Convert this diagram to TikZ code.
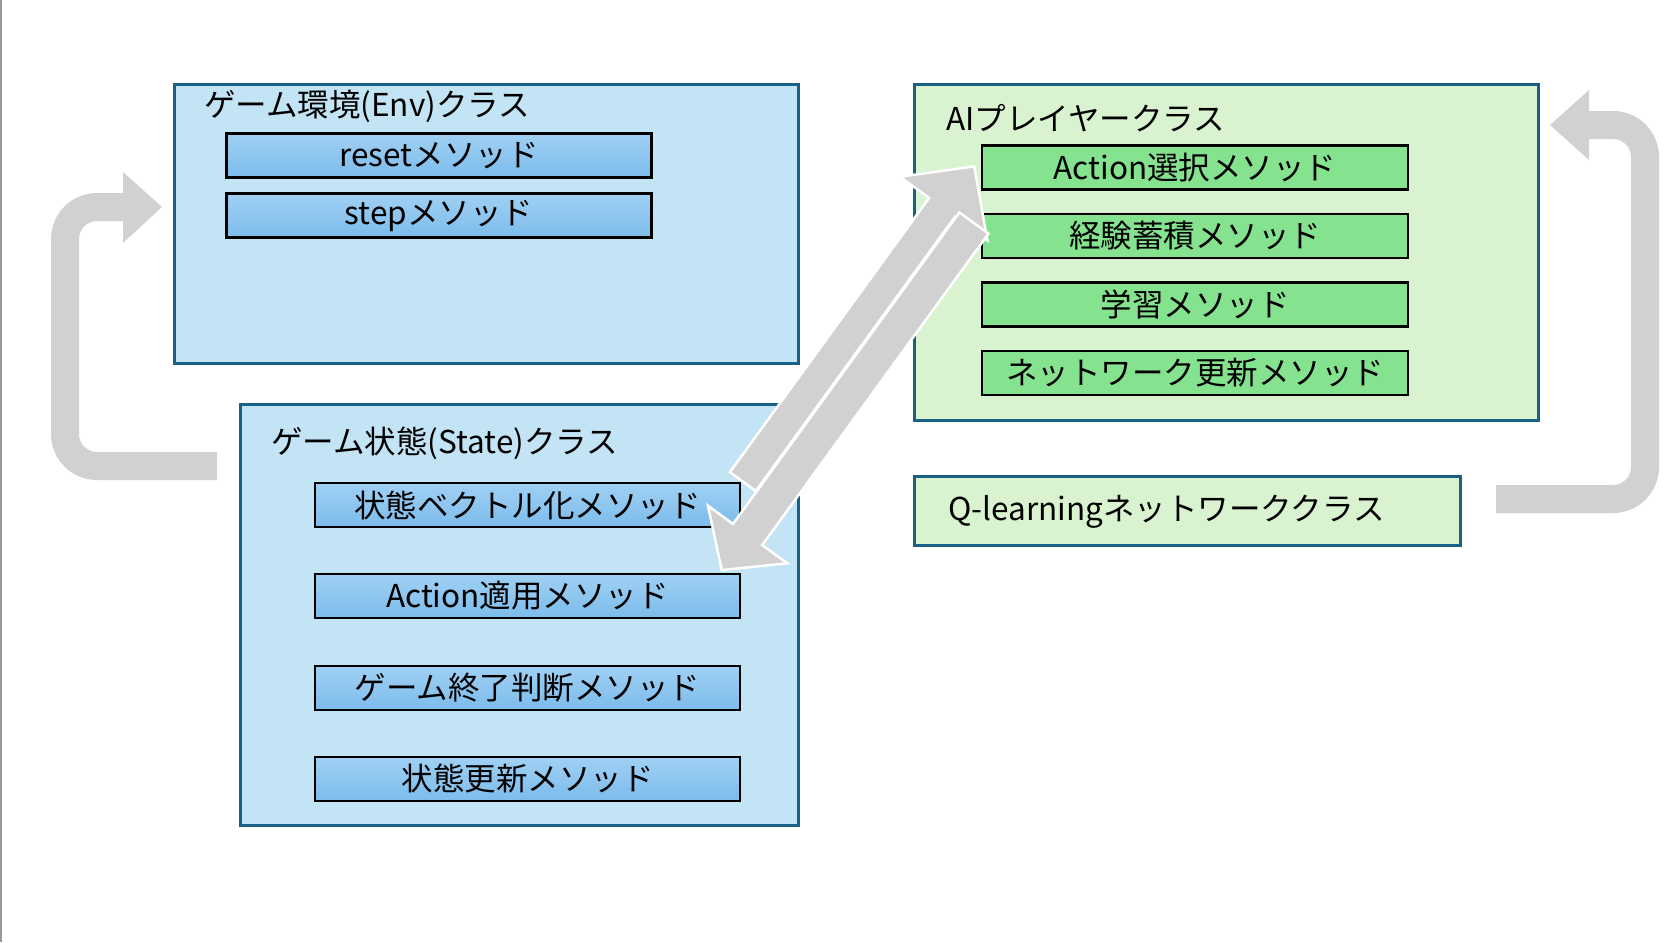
\documentclass[tikz,border=0pt]{standalone}
\usepackage{fontspec}
\setmainfont{Noto Sans CJK JP}
\usepackage{tikz}
\usetikzlibrary{positioning}
\definecolor{boxline}{RGB}{24,96,132}
\definecolor{envfill}{RGB}{194,228,245}
\definecolor{aifill}{RGB}{217,243,209}
\definecolor{methodgreen}{RGB}{133,226,143}
\definecolor{methodtop}{RGB}{160,208,244}
\definecolor{methodbot}{RGB}{124,188,235}
\definecolor{flowgray}{RGB}{209,209,209}

\begin{document}
\begin{tikzpicture}[x=1pt, y=-1pt,
	every node/.style={font=\fontsize{31.5}{38}\selectfont, inner sep=0pt},
	classbox/.style={draw=boxline, line width=3pt, anchor=north west},
	bluemethod/.style={draw=black, line width=2.5pt, top color=methodtop, bottom color=methodbot, minimum width=425pt, minimum height=44pt},
	greenmethod/.style={draw=black, line width=2.5pt, fill=methodgreen, minimum width=426pt, minimum height=44pt},
	title/.style={anchor=west},
	flow/.style={draw=flowgray, line width=28pt, rounded corners=32pt},
	flowhead/.style={fill=flowgray},
	bigarrow/.style={fill=flowgray, draw=white, line width=2.5pt}]
	\useasboundingbox (0,0) rectangle (1680,942);
	\draw [black!40, line width=1.5pt] (0.75,0) -- (0.75,942);

	% game environment
	\node (env) [classbox, fill=envfill, minimum width=624pt, minimum height=279pt] at (173,83) {};
	\node (envtitle) [title] at (204,106) {ゲーム環境(Env)クラス};
	\node (reset) [bluemethod] at (439,155.5) {resetメソッド};
	\node (step) [bluemethod] at (439,215.5) {stepメソッド};

	% game state
	\node (state) [classbox, fill=envfill, minimum width=558pt, minimum height=421pt] at (239,403) {};
	\node (statetitle) [title] at (271,443) {ゲーム状態(State)クラス};
	\node (vectorize) [bluemethod] at (527.5,505) {状態ベクトル化メソッド};
	\node (apply) [bluemethod] at (527.5,596) {Action適用メソッド};
	\node (finish) [bluemethod] at (527.5,688) {ゲーム終了判断メソッド};
	\node (update) [bluemethod] at (527.5,779) {状態更新メソッド};

	% AI player
	\node (ai) [classbox, fill=aifill, minimum width=624pt, minimum height=336pt] at (913,83) {};
	\node (aititle) [title] at (946,118) {AIプレイヤークラス};
	\node (select) [greenmethod] at (1195,167.5) {Action選択メソッド};
	\node (store) [greenmethod] at (1195,236) {経験蓄積メソッド};
	\node (learn) [greenmethod] at (1195,304.5) {学習メソッド};
	\node (netupd) [greenmethod] at (1195,373) {ネットワーク更新メソッド};

	\node (qnet) [classbox, fill=aifill, minimum width=546pt, minimum height=69pt] at (913,475) {};
	\node (qtitle) [title] at (948,512) {Q-learningネットワーククラス};

	% loops on the sides
	\coordinate (ltail) at (217,466);
	\coordinate (lhead) at (123,207);
	\draw [flow] (ltail) -- (65,466) -- (65,207) -- (lhead);
	\fill [flowhead] (123,172) -- (162,207) -- (123,243) -- cycle;
	\coordinate (rtail) at (1496,499);
	\coordinate (rhead) at (1589,125);
	\draw [flow] (rtail) -- (1645,499) -- (1645,125) -- (rhead);
	\fill [flowhead] (1589,90) -- (1550,125) -- (1589,160) -- cycle;

	% state <-> AI player
	\begin{scope}[rotate=54]
		\draw [bigarrow] (47,868) -- (386,868) -- (386,832) -- (438,886) -- (386,940) -- (386,900) -- (47,900) -- cycle;
		\draw [bigarrow] (392,901) -- (7,901) -- (7,870) -- (-37,919) -- (7,968) -- (7,937) -- (392,937) -- cycle;
	\end{scope}
\end{tikzpicture}
\end{document}
